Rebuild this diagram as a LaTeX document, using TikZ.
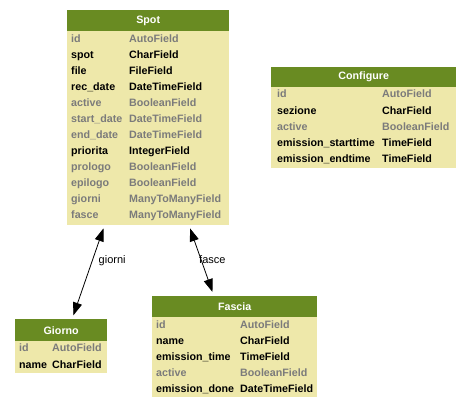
\documentclass[tikz,border=0pt]{standalone}
\usepackage{fontspec}
\setmainfont{Liberation Sans}
\usetikzlibrary{arrows.meta}
\definecolor{hdr}{HTML}{698B22}
\definecolor{bodyc}{HTML}{EEE8AA}
\definecolor{grayt}{HTML}{7B7B7B}
\tikzset{
  tblbody/.style={fill=bodyc, draw=none, inner sep=0, anchor=north west},
  tblhead/.style={fill=hdr, draw=none, inner sep=0, anchor=north west, text=white,
    font=\fontsize{10.7bp}{12bp}\selectfont\bfseries},
  fld/.style={inner sep=0, anchor=west, text height=8bp, text depth=0bp,
    font=\fontsize{10.7bp}{12bp}\selectfont\bfseries},
  fldg/.style={fld, text=grayt},
  rel/.style={draw=black, line width=0.8bp, {Triangle[length=13bp,width=9bp]}-{Triangle[length=13bp,width=9bp]}},
  rellabel/.style={inner sep=0, anchor=west, font=\fontsize{11bp}{12bp}\selectfont}
}
\begin{document}
\begin{tikzpicture}[x=1bp,y=-1bp]
\useasboundingbox (0,0) rectangle (471,408);
% ---------- Spot ----------
\node[tblbody, minimum width=162bp, minimum height=215bp] (spot) at (67,10) {};
\node[tblhead, minimum width=162bp, minimum height=21bp] (spoth) at (67,10) {Spot};
\node[fldg] (s1a) at (71,38.3) {id};          \node[fldg] (s1b) at (129,38.3) {AutoField};
\node[fld]  (s2a) at (71,54.3) {spot};        \node[fld]  (s2b) at (129,54.3) {CharField};
\node[fld]  (s3a) at (71,70.3) {file};        \node[fld]  (s3b) at (129,70.3) {FileField};
\node[fld]  (s4a) at (71,86.3) {rec\_date};   \node[fld]  (s4b) at (129,86.3) {DateTimeField};
\node[fldg] (s5a) at (71,102.3) {active};     \node[fldg] (s5b) at (129,102.3) {BooleanField};
\node[fldg] (s6a) at (71,118.3) {start\_date};\node[fldg] (s6b) at (129,118.3) {DateTimeField};
\node[fldg] (s7a) at (71,134.3) {end\_date};  \node[fldg] (s7b) at (129,134.3) {DateTimeField};
\node[fld]  (s8a) at (71,150.3) {priorita};   \node[fld]  (s8b) at (129,150.3) {IntegerField};
\node[fldg] (s9a) at (71,166.3) {prologo};    \node[fldg] (s9b) at (129,166.3) {BooleanField};
\node[fldg] (s10a) at (71,182.3) {epilogo};   \node[fldg] (s10b) at (129,182.3) {BooleanField};
\node[fldg] (s11a) at (71,198.3) {giorni};    \node[fldg] (s11b) at (129,198.3) {ManyToManyField};
\node[fldg] (s12a) at (71,214.3) {fasce};     \node[fldg] (s12b) at (129,214.3) {ManyToManyField};
% ---------- Configure ----------
\node[tblbody, minimum width=185bp, minimum height=101bp] (conf) at (271,67) {};
\node[tblhead, minimum width=185bp, minimum height=20bp] (confh) at (271,67) {Configure};
\node[fldg] (c1a) at (277,93.5) {id};                   \node[fldg] (c1b) at (382,93.5) {AutoField};
\node[fld]  (c2a) at (277,110) {sezione};               \node[fld]  (c2b) at (382,110) {CharField};
\node[fldg] (c3a) at (277,126) {active};                \node[fldg] (c3b) at (382,126) {BooleanField};
\node[fld]  (c4a) at (277,142) {emission\_starttime};   \node[fld]  (c4b) at (382,142) {TimeField};
\node[fld]  (c5a) at (277,158) {emission\_endtime};     \node[fld]  (c5b) at (382,158) {TimeField};
% ---------- Giorno ----------
\node[tblbody, minimum width=92bp, minimum height=54bp] (giorno) at (15,319) {};
\node[tblhead, minimum width=92bp, minimum height=22bp] (giornoh) at (15,319) {Giorno};
\node[fldg] (g1a) at (19,347.7) {id};     \node[fldg] (g1b) at (52,347.7) {AutoField};
\node[fld]  (g2a) at (19,364.3) {name};   \node[fld]  (g2b) at (52,364.3) {CharField};
% ---------- Fascia ----------
\node[tblbody, minimum width=165bp, minimum height=101bp] (fascia) at (152,296) {};
\node[tblhead, minimum width=165bp, minimum height=21bp] (fasciah) at (152,296) {Fascia};
\node[fldg] (f1a) at (156,324.3) {id};               \node[fldg] (f1b) at (240,324.3) {AutoField};
\node[fld]  (f2a) at (156,340.3) {name};             \node[fld]  (f2b) at (240,340.3) {CharField};
\node[fld]  (f3a) at (156,356.3) {emission\_time};   \node[fld]  (f3b) at (240,356.3) {TimeField};
\node[fldg] (f4a) at (156,372.3) {active};           \node[fldg] (f4b) at (240,372.3) {BooleanField};
\node[fld]  (f5a) at (156,388.3) {emission\_done};   \node[fld]  (f5b) at (240,388.3) {DateTimeField};
% ---------- relations ----------
\coordinate (spotg) at (103.5,228.3);
\coordinate (giornot) at (73.3,315.5);
\coordinate (spotf) at (190,228.3);
\coordinate (fasciat) at (212.5,292);
\draw[rel] (spotg) -- (giornot);
\draw[rel] (spotf) -- (fasciat);
\node[rellabel] (lg) at (98.5,260.5) {giorni};
\node[rellabel] (lf) at (199,259.3) {fasce};
\end{tikzpicture}
\end{document}
